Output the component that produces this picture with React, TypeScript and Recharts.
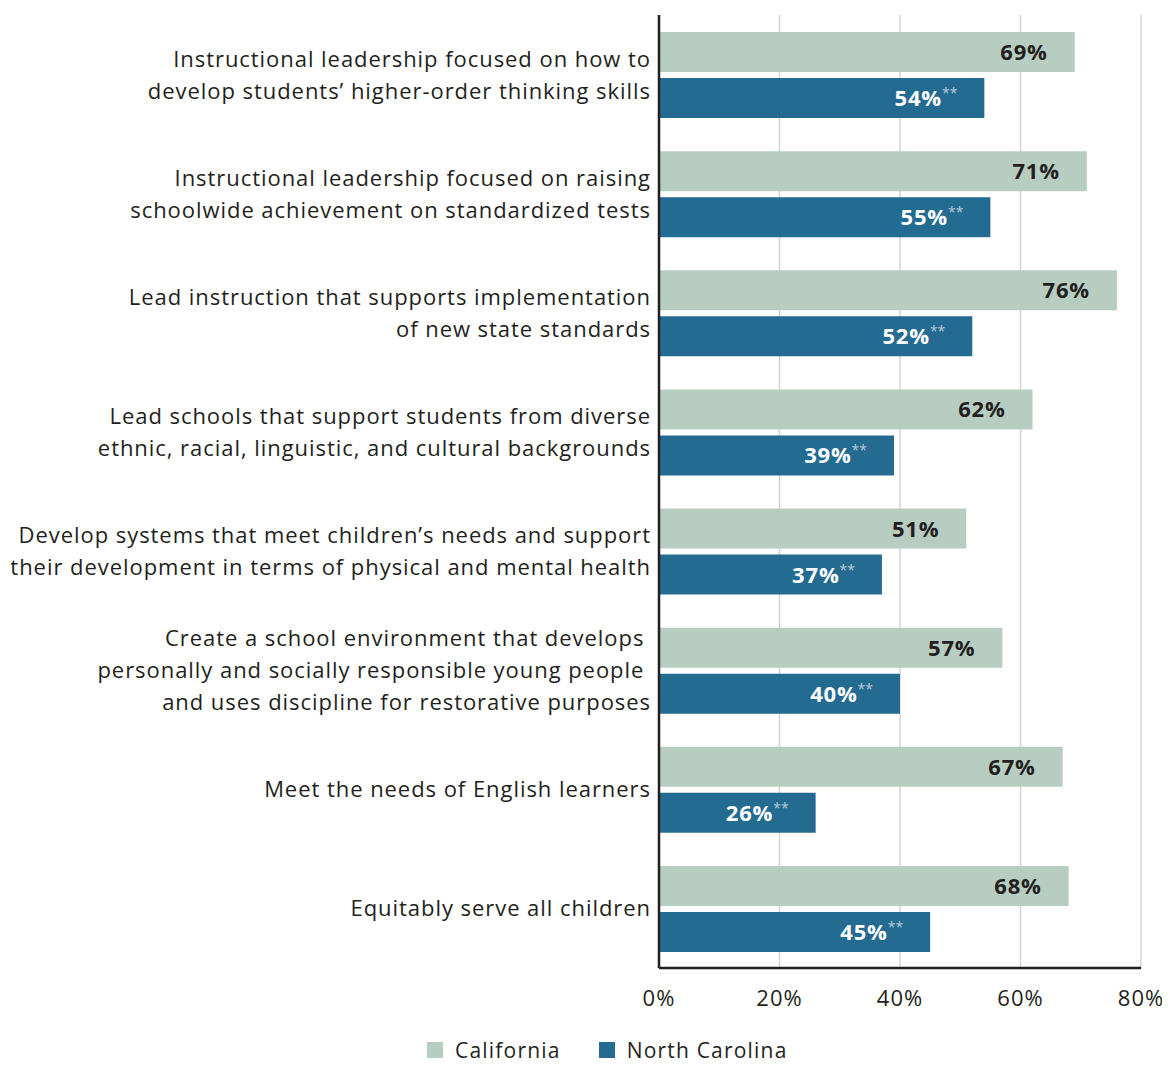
import { Bar, BarChart, CartesianGrid, LabelList, XAxis, YAxis } from "recharts";

const categories = [
  "Instructional leadership focused on how to\ndevelop students’ higher-order thinking skills",
  "Instructional leadership focused on raising\nschoolwide achievement on standardized tests",
  "Lead instruction that supports implementation\nof new state standards",
  "Lead schools that support students from diverse\nethnic, racial, linguistic, and cultural backgrounds",
  "Develop systems that meet children’s needs and support\ntheir development in terms of physical and mental health",
  "Create a school environment that develops \npersonally and socially responsible young people \nand uses discipline for restorative purposes",
  "Meet the needs of English learners",
  "Equitably serve all children",
];

const california = [69, 71, 76, 62, 51, 57, 67, 68];
const northCarolina = [54, 55, 52, 39, 37, 40, 26, 45];

const xTicks = [0, 20, 40, 60, 80];

const data = categories.map((c, i) => ({
  category: c,
  california: california[i],
  northCarolina: northCarolina[i],
}));

const FONT = "'Open Sans', sans-serif";
const CA_COLOR = "#b8cdc2";
const NC_COLOR = "#236b91";
const TEXT = "#231f20";
const SPACING = 0.95;

function CategoryTick(props: any) {
  const { x, y, payload } = props;
  const lines: string[] = String(payload.value).split("\n");
  const lineH = 32;
  const startY = y - 1 - ((lines.length - 1) * lineH) / 2;
  return (
    <text
      x={x}
      y={startY}
      textAnchor="end"
      dominantBaseline="central"
      fontFamily={FONT}
      fontSize={22}
      letterSpacing={SPACING}
      fill={TEXT}
      style={{ whiteSpace: "pre" }}
    >
      {lines.map((line, i) => (
        <tspan key={i} x={x} y={startY + i * lineH}>
          {line}
        </tspan>
      ))}
    </text>
  );
}

function CaLabel(props: any) {
  const { x, y, width, height, value } = props;
  return (
    <text
      x={x + width - 27}
      y={y + height / 2 - 1}
      textAnchor="end"
      dominantBaseline="central"
      fontFamily={FONT}
      fontSize={22}
      fontWeight={700}
      letterSpacing={0.8}
      fill={TEXT}
    >
      {value}%
    </text>
  );
}

function NcLabel(props: any) {
  const { x, y, width, height, value } = props;
  return (
    <text
      x={x + width - 27}
      y={y + height / 2 - 1}
      textAnchor="end"
      dominantBaseline="central"
      fontFamily={FONT}
      fontSize={22}
      fontWeight={700}
      letterSpacing={0.8}
      fill="#ffffff"
    >
      {value}%
      <tspan fontSize={14} fontWeight={400} letterSpacing={0} fill="#b9cad8" dy={-5}>
        **
      </tspan>
    </text>
  );
}

export default function App() {
  return (
    <div style={{ position: "relative", width: 1162, height: 1057, fontFamily: FONT }}>
      <BarChart
        width={1162}
        height={1010}
        data={data}
        layout="vertical"
        margin={{ top: 7, right: 29, bottom: 0, left: 0 }}
        barSize={40}
        barGap={6}
      >
        <CartesianGrid horizontal={false} stroke="#d4d4d4" strokeWidth={1.5} />
        <XAxis
          type="number"
          domain={[0, 80]}
          ticks={xTicks}
          tickFormatter={(v: number) => `${v}%`}
          tickLine={false}
          axisLine={{ stroke: TEXT, strokeWidth: 2.5 }}
          tick={{ fill: TEXT, fontSize: 22, fontFamily: FONT, letterSpacing: 1 }}
          tickMargin={16}
          height={50}
        />
        <YAxis
          type="category"
          dataKey="category"
          width={651}
          tickLine={false}
          axisLine={{ stroke: TEXT, strokeWidth: 2.5 }}
          tick={(p: any) => <CategoryTick {...p} />}
          tickMargin={2}
          interval={0}
        />
        <Bar dataKey="california" fill={CA_COLOR} isAnimationActive={false}>
          <LabelList dataKey="california" content={(p: any) => <CaLabel {...p} />} />
        </Bar>
        <Bar dataKey="northCarolina" fill={NC_COLOR} isAnimationActive={false}>
          <LabelList dataKey="northCarolina" content={(p: any) => <NcLabel {...p} />} />
        </Bar>
      </BarChart>
      <div
        style={{
          position: "absolute",
          top: 1032,
          left: 419,
          display: "flex",
          alignItems: "center",
          height: 20,
          lineHeight: "20px",
          fontSize: 21,
          letterSpacing: 1.2,
          color: TEXT,
          whiteSpace: "nowrap",
        }}
      >
        <span style={{ width: 16, height: 16, background: CA_COLOR, display: "inline-block", marginRight: 12 }} />
        <span style={{ marginRight: 38 }}>California</span>
        <span style={{ width: 16, height: 16, background: NC_COLOR, display: "inline-block", marginRight: 12 }} />
        <span>North Carolina</span>
      </div>
    </div>
  );
}
